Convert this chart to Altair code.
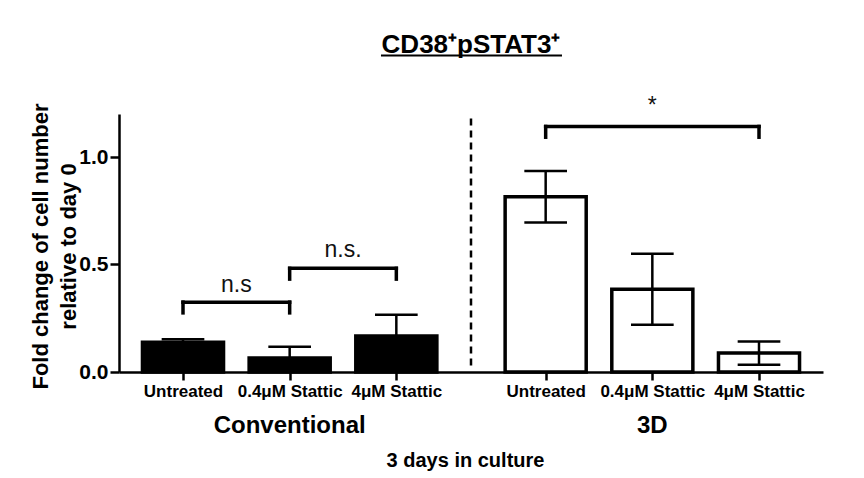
import altair as alt
import pandas as pd

# --- data -------------------------------------------------------------
culture = ["Conventional", "Conventional", "Conventional", "3D", "3D", "3D"]
treatment = ["Untreated", "0.4μM Stattic", "4μM Stattic",
             "Untreated", "0.4μM Stattic", "4μM Stattic"]
x_pos = [0, 1, 2, 3.4, 4.4, 5.4]
fold_change = [0.138, 0.065, 0.168, 0.815, 0.385, 0.088]
sem = [0.014, 0.052, 0.098, 0.120, 0.165, 0.054]

group_names = ["Conventional", "3D"]
group_x = [1.0, 4.4]

# significance brackets
br_x1 = [0, 1, 3.4]
br_x2 = [1, 2, 5.4]
br_top = [0.325, 0.482, 1.142]
br_leg = [0.275, 0.432, 1.092]
br_label = ["n.s", "n.s.", "*"]
br_label_y = [0.372, 0.535, 1.205]

BAR_HALF = 0.38
CAP_HALF = 0.20
FONT = "Liberation Sans"

df = pd.DataFrame({
    "culture": culture,
    "treatment": treatment,
    "pos": x_pos,
    "mean": fold_change,
    "sem": sem,
})
df["x1"] = df["pos"] - BAR_HALF
df["x2"] = df["pos"] + BAR_HALF
df["lo"] = df["mean"] - df["sem"]
df["hi"] = df["mean"] + df["sem"]
df["cap_l"] = df["pos"] - CAP_HALF
df["cap_r"] = df["pos"] + CAP_HALF

brackets = pd.DataFrame({
    "x1": br_x1, "x2": br_x2, "top": br_top, "leg": br_leg,
    "label": br_label, "label_y": br_label_y,
    "mid": [(a + b) / 2 for a, b in zip(br_x1, br_x2)],
})
groups = pd.DataFrame({"name": group_names, "x": group_x, "y": [-0.284, -0.284]})
divider = pd.DataFrame({"x": [2.7], "y1": [0.03], "y2": [1.19]})
heading = pd.DataFrame({"text": ["CD38⁺pSTAT3⁺"], "x": [2.7], "y": [1.484],
                        "u1": [1.856], "u2": [3.553], "uy": [1.472]})

x_scale = alt.Scale(domain=[-0.6, 6.0], nice=False, zero=False)
y_scale = alt.Scale(domain=[0, 1.2], nice=False)

label_expr = "".join(
    f"abs(datum.value - {p}) < 0.01 ? '{t}' : " for p, t in zip(x_pos, treatment)
) + "''"

x_axis = alt.Axis(
    values=x_pos, labelExpr=label_expr, title="3 days in culture",
    grid=False, tickSize=8, tickWidth=2.5, domainWidth=2.5,
    domainColor="black", tickColor="black",
    labelFont=FONT, labelFontSize=17, labelFontWeight="bold", labelColor="black",
    labelPadding=3, labelOverlap=False, labelFlush=False,
    titleFont=FONT, titleFontSize=20, titleFontWeight="bold", titleColor="black",
    titleX=346, titleY=94, titleBaseline="alphabetic",
)
y_axis = alt.Axis(
    values=[0, 0.5, 1.0], format=".1f",
    title=["Fold change of cell number", "relative to day 0"],
    grid=False, tickSize=9, tickWidth=2.5, domainWidth=2.5,
    domainColor="black", tickColor="black",
    labelFont=FONT, labelFontSize=21, labelFontWeight="bold", labelColor="black",
    labelPadding=2,
    titleFont=FONT, titleFontSize=22, titleFontWeight="bold", titleColor="black",
    titleAngle=-90, titleX=-79, titleY=132, titleBaseline="middle",
    titleAlign="center", titleLineHeight=28,
)


def X(field):
    return alt.X(field, type="quantitative", scale=x_scale, axis=x_axis)


def Y(field):
    return alt.Y(field, type="quantitative", scale=y_scale, axis=y_axis)


bars = alt.Chart(df).mark_rect(stroke="black", strokeWidth=3.5).encode(
    x=X("x1"), x2="x2:Q",
    y=Y("mean"), y2=alt.datum(0),
    fill=alt.Color("culture:N",
                   scale=alt.Scale(domain=["Conventional", "3D"], range=["black", "white"]),
                   legend=None),
)

err_kw = dict(color="black", strokeWidth=2.5)
whisker = alt.Chart(df).mark_rule(**err_kw).encode(x=X("pos"), y=Y("lo"), y2="hi:Q")
cap_hi = alt.Chart(df).mark_rule(**err_kw).encode(x=X("cap_l"), x2="cap_r:Q", y=Y("hi"))
cap_lo = alt.Chart(df).mark_rule(**err_kw).encode(x=X("cap_l"), x2="cap_r:Q", y=Y("lo"))

br_kw = dict(color="black", strokeWidth=3.5, strokeCap="square")
br_h = alt.Chart(brackets).mark_rule(**br_kw).encode(x=X("x1"), x2="x2:Q", y=Y("top"))
br_l = alt.Chart(brackets).mark_rule(**br_kw).encode(x=X("x1"), y=Y("top"), y2="leg:Q")
br_r = alt.Chart(brackets).mark_rule(**br_kw).encode(x=X("x2"), y=Y("top"), y2="leg:Q")
br_text = alt.Chart(brackets).mark_text(
    font=FONT, fontSize=23, color="#111111", baseline="alphabetic"
).encode(x=X("mid"), y=Y("label_y"), text="label:N")

dash = alt.Chart(divider).mark_rule(
    color="black", strokeWidth=2.5, strokeDash=[7, 5]
).encode(x=X("x"), y=Y("y1"), y2="y2:Q")

group_text = alt.Chart(groups).mark_text(
    font=FONT, fontSize=24, fontWeight="bold", color="black", baseline="alphabetic"
).encode(x=X("x"), y=Y("y"), text="name:N")

title_text = alt.Chart(heading).mark_text(
    font=FONT, fontSize=26, fontWeight="bold", color="black", baseline="alphabetic"
).encode(x=X("x"), y=Y("y"), text="text:N")
title_line = alt.Chart(heading).mark_rule(color="black", strokeWidth=2).encode(
    x=X("u1"), x2="u2:Q", y=Y("uy")
)

chart = alt.layer(
    bars, whisker, cap_hi, cap_lo, dash, br_h, br_l, br_r, br_text,
    group_text, title_text, title_line,
).properties(
    width=704, height=258,
    padding={"left": 119, "top": 114, "right": 41, "bottom": 106},
    autosize=alt.AutoSizeParams(type="none"),
    background="white",
).configure_view(stroke=None)

chart.save("out.html", embed_options={"renderer": "svg", "actions": False})
